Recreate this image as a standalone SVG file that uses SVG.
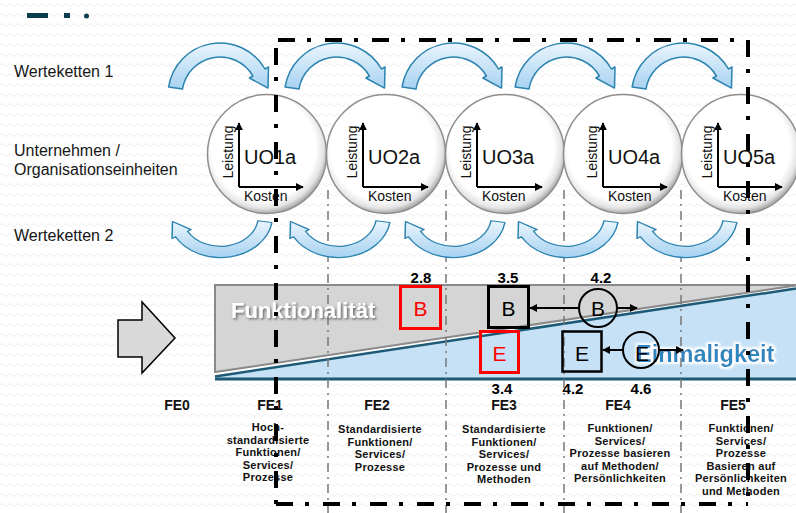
<svg xmlns="http://www.w3.org/2000/svg" width="796" height="513" viewBox="0 0 796 513">
<style>
.lbl{font-family:'Liberation Sans',Arial,sans-serif;font-size:16px;fill:#161616}
.uo{font-family:'Liberation Sans',Arial,sans-serif;font-size:20px;fill:#111}
.ax{font-family:'Liberation Sans',Arial,sans-serif;font-size:14px;fill:#111}
.axl{fill:none;stroke:#000;stroke-width:2;marker-end:url(#ah)}
.num{font-family:'Liberation Sans',Arial,sans-serif;font-size:15px;font-weight:bold;fill:#000;text-anchor:middle}
.fe{font-family:'Liberation Sans',Arial,sans-serif;font-size:14px;font-weight:bold;fill:#111;text-anchor:middle}
.fet{font-family:'Liberation Sans',Arial,sans-serif;font-size:11px;font-weight:bold;fill:#111;text-anchor:middle;letter-spacing:0.25px}
.box{font-family:'Liberation Sans',Arial,sans-serif;font-size:21px;text-anchor:middle}
.wt{stroke:#2b83b0;stroke-width:1.5;stroke-linejoin:round}
.gl{stroke:#777;stroke-width:1.5;stroke-dasharray:9 5 2 5;fill:none}
.fr{stroke:#000;stroke-width:4;stroke-dasharray:17 12 4 14;fill:none}
.circ{fill:url(#cg);stroke:#8e8e8e;stroke-width:1.5}
.con{stroke:#000;stroke-width:2;fill:none;marker-end:url(#ah)}
</style>
<defs>
<pattern id="wave" width="8" height="10" patternUnits="userSpaceOnUse"><path d="M0,5 Q2,2 4,5 T8,5" fill="none" stroke="#efefef" stroke-width="1"/></pattern>
<linearGradient id="gT" x1="0" y1="0" x2="0" y2="1"><stop offset="0" stop-color="#eaf5fd"/><stop offset="1" stop-color="#a7d2f1"/></linearGradient>
<linearGradient id="gB" x1="0" y1="0" x2="0" y2="1"><stop offset="0" stop-color="#a7d2f1"/><stop offset="1" stop-color="#eaf5fd"/></linearGradient>
<radialGradient id="cg" cx="0.47" cy="0.45" r="0.55"><stop offset="0" stop-color="#ffffff"/><stop offset="0.8" stop-color="#ffffff"/><stop offset="0.92" stop-color="#e4e4e4"/><stop offset="1" stop-color="#a9a9a9"/></radialGradient>
<path id="arc" d="M-51.4,-8.1 A52,52 0 0 1 45,-26 L48.5,-28 L48,-6.9 L29.4,-17 L32.9,-19 A38,38 0 0 0 -37.5,-5.9 Z"/>
<marker id="ah" viewBox="0 0 10 10" refX="9" refY="5" markerWidth="4" markerHeight="4" orient="auto"><path d="M0,0 L10,5 L0,10 z" fill="#000"/></marker>
<filter id="sh" x="-10%" y="-30%" width="120%" height="160%"><feDropShadow dx="1.5" dy="1.5" stdDeviation="1" flood-color="#555" flood-opacity="0.85"/></filter>
<filter id="glow" x="-10%" y="-30%" width="120%" height="160%"><feMorphology operator="dilate" radius="1.5" in="SourceAlpha" result="d"/><feFlood flood-color="#ffffff"/><feComposite in2="d" operator="in" result="w"/><feGaussianBlur in="w" stdDeviation="0.8" result="wb"/><feMerge><feMergeNode in="wb"/><feMergeNode in="SourceGraphic"/></feMerge></filter>
</defs>
<rect width="796" height="513" fill="#ffffff"/>
<rect width="796" height="513" fill="url(#wave)"/>
<g id="logo" fill="#0b3d4f"><rect x="27" y="13" width="21" height="5"/><rect x="64" y="13" width="6" height="5"/><circle cx="86.5" cy="16" r="2.5"/></g>
<g id="labels">
<text class="lbl" x="14" y="77">Werteketten 1</text>
<text class="lbl" x="14" y="156">Unternehmen /</text>
<text class="lbl" x="14" y="175">Organisationseinheiten</text>
<text class="lbl" x="14" y="241">Werteketten 2</text>
</g>
<g id="band">
<polygon points="215,378 215,376 796,288 796,378" fill="#c6e1f6"/>
<polygon points="215,285 796,285 796,285.5 215,372" fill="#d5d5d5" stroke="#8a8a8a" stroke-width="2"/>
<line x1="215" y1="376.5" x2="796" y2="288.5" stroke="#1d5a76" stroke-width="2.5"/>
<line x1="215" y1="379" x2="796" y2="379" stroke="#1d5a76" stroke-width="3"/>
<text x="231" y="318" font-family="'Liberation Sans',Arial,sans-serif" font-size="22" font-weight="bold" fill="#ffffff" filter="url(#sh)">Funktionalität</text>
<text x="636" y="362" font-family="'Liberation Sans',Arial,sans-serif" font-size="23.5" font-weight="bold" fill="#2e86c1" filter="url(#glow)">Einmaligkeit</text>
</g>
<g id="grid">
<line class="gl" x1="328" y1="190" x2="328" y2="513"/>
<line class="gl" x1="446" y1="190" x2="446" y2="513"/>
<line class="gl" x1="564" y1="190" x2="564" y2="513"/>
<line class="gl" x1="681" y1="190" x2="681" y2="513"/>
</g>
<g id="bigarrow"><polygon points="118,320 142,320 142,302 175,338 142,373 142,357 118,357" fill="#d9d9d9" stroke="#000" stroke-width="1.5"/></g>
<g id="werteketten1" class="wt" fill="url(#gT)">
<use href="#arc" transform="translate(220,95)"/>
<use href="#arc" transform="translate(336.5,95)"/>
<use href="#arc" transform="translate(453.5,95)"/>
<use href="#arc" transform="translate(566.5,95)"/>
<use href="#arc" transform="translate(683.5,95)"/>
</g>
<g id="werteketten2" class="wt" fill="url(#gB)">
<use href="#arc" transform="translate(220.5,216) scale(-1,-0.8)"/>
<use href="#arc" transform="translate(338.5,216) scale(-1,-0.8)"/>
<use href="#arc" transform="translate(453.5,216) scale(-1,-0.8)"/>
<use href="#arc" transform="translate(566.5,216) scale(-1,-0.8)"/>
<use href="#arc" transform="translate(685.5,216) scale(-1,-0.8)"/>
</g>
<g id="UO1a"><circle class="circ" cx="267" cy="154" r="59.5"/><path class="axl" d="M239,187 V123"/><path class="axl" d="M239,187 H303"/><text class="ax" transform="translate(233,152) rotate(-90)" text-anchor="middle">Leistung</text><text class="uo" x="244" y="164">UO1a</text><text class="ax" x="244" y="201">Kosten</text></g>
<g id="UO2a"><circle class="circ" cx="386" cy="154" r="59.5"/><path class="axl" d="M363,187 V123"/><path class="axl" d="M363,187 H428"/><text class="ax" transform="translate(357,152) rotate(-90)" text-anchor="middle">Leistung</text><text class="uo" x="368" y="164">UO2a</text><text class="ax" x="368" y="201">Kosten</text></g>
<g id="UO3a"><circle class="circ" cx="505" cy="154" r="59.5"/><path class="axl" d="M477,187 V123"/><path class="axl" d="M477,187 H542"/><text class="ax" transform="translate(471,152) rotate(-90)" text-anchor="middle">Leistung</text><text class="uo" x="482" y="164">UO3a</text><text class="ax" x="482" y="201">Kosten</text></g>
<g id="UO4a"><circle class="circ" cx="623" cy="154" r="59.5"/><path class="axl" d="M603,187 V123"/><path class="axl" d="M603,187 H667"/><text class="ax" transform="translate(597,152) rotate(-90)" text-anchor="middle">Leistung</text><text class="uo" x="608" y="164">UO4a</text><text class="ax" x="608" y="201">Kosten</text></g>
<g id="UO5a"><circle class="circ" cx="741" cy="154" r="59.5"/><path class="axl" d="M718,187 V123"/><path class="axl" d="M718,187 H782"/><text class="ax" transform="translate(712,152) rotate(-90)" text-anchor="middle">Leistung</text><text class="uo" x="723" y="164">UO5a</text><text class="ax" x="723" y="201">Kosten</text></g>
<g id="B28"><rect x="400.5" y="286.5" width="40" height="42" fill="none" stroke="#ff0000" stroke-width="3"/><text class="box" x="420.5" y="316" fill="#ff0000">B</text><text class="num" x="421" y="283">2.8</text></g>
<g id="B35"><rect x="488.5" y="286.5" width="40" height="41" fill="none" stroke="#000" stroke-width="3"/><text class="box" x="508.5" y="316" fill="#000">B</text><text class="num" x="508" y="283">3.5</text></g>
<g id="B42"><circle cx="598" cy="308" r="19" fill="none" stroke="#000" stroke-width="2"/><text class="box" x="598" y="316" fill="#000">B</text><text class="num" x="601" y="283">4.2</text></g>
<g id="E34"><rect x="480.5" y="331.5" width="38" height="41" fill="none" stroke="#ff0000" stroke-width="3"/><text class="box" x="499.5" y="361" fill="#ff0000">E</text><text class="num" x="502" y="394">3.4</text></g>
<g id="E42"><rect x="562.5" y="331.5" width="39" height="40" fill="none" stroke="#000" stroke-width="2.5"/><text class="box" x="582" y="361" fill="#000">E</text><text class="num" x="573" y="394">4.2</text></g>
<g id="E46"><circle cx="641" cy="350" r="18" fill="none" stroke="#000" stroke-width="2"/><text class="box" x="642" y="361" fill="#000">E</text><text class="num" x="641" y="394">4.6</text></g>
<g id="connectors">
<line class="con" x1="579" y1="308" x2="530" y2="308"/>
<line class="con" x1="617" y1="308" x2="637" y2="308"/>
<line class="con" x1="623" y1="350" x2="603" y2="350"/>
<line class="con" x1="659" y1="350" x2="683" y2="350"/>
</g>
<g id="FE0"><text class="fe" x="177" y="410">FE0</text></g>
<g id="FE1"><text class="fe" x="270" y="410">FE1</text>
<text class="fet" x="268" y="431">Hoch-</text><text class="fet" x="268" y="443.5">standardisierte</text><text class="fet" x="268" y="456">Funktionen/</text><text class="fet" x="268" y="468.5">Services/</text><text class="fet" x="268" y="481">Prozesse</text></g>
<g id="FE2"><text class="fe" x="377" y="410">FE2</text>
<text class="fet" x="380" y="433">Standardisierte</text><text class="fet" x="380" y="445.5">Funktionen/</text><text class="fet" x="380" y="458">Services/</text><text class="fet" x="380" y="470.5">Prozesse</text></g>
<g id="FE3"><text class="fe" x="504" y="410">FE3</text>
<text class="fet" x="504" y="433">Standardisierte</text><text class="fet" x="504" y="445.5">Funktionen/</text><text class="fet" x="504" y="458">Services/</text><text class="fet" x="504" y="470.5">Prozesse und</text><text class="fet" x="504" y="483">Methoden</text></g>
<g id="FE4"><text class="fe" x="618" y="410">FE4</text>
<text class="fet" x="620" y="432">Funktionen/</text><text class="fet" x="620" y="444.5">Services/</text><text class="fet" x="620" y="457">Prozesse basieren</text><text class="fet" x="620" y="469.5">auf Methoden/</text><text class="fet" x="620" y="482">Persönlichkeiten</text></g>
<g id="FE5"><text class="fe" x="733" y="410">FE5</text>
<text class="fet" x="741" y="432">Funktionen/</text><text class="fet" x="741" y="444.5">Services/</text><text class="fet" x="741" y="457">Prozesse</text><text class="fet" x="741" y="469.5">Basieren auf</text><text class="fet" x="741" y="482">Persönlichkeiten</text><text class="fet" x="741" y="494.5">und Methoden</text></g>
<g id="frame">
<line class="fr" x1="278" y1="40" x2="748" y2="40"/>
<line class="fr" x1="748" y1="40" x2="748" y2="505"/>
<line class="fr" x1="276" y1="504" x2="748" y2="504"/>
<line class="fr" x1="276" y1="48" x2="276" y2="505"/>
</g>
</svg>
